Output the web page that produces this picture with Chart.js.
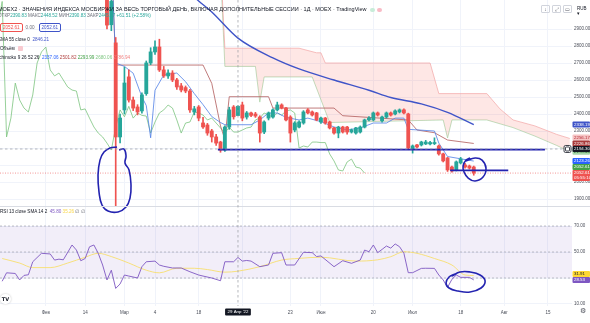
<!DOCTYPE html>
<html lang="ru">
<head>
<meta charset="utf-8">
<title>MOEX2 · 1Д</title>
<script src="https://cdn.jsdelivr.net/npm/chart.js@4.4.1/dist/chart.umd.min.js"></script>
<style>
  html, body { margin: 0; padding: 0; background: #fff; }
  #wrap { position: relative; width: 590px; height: 323px; overflow: hidden;
          font-family: "Liberation Sans", Arial, sans-serif; color: #131722; }
  #chart { position: absolute; left: 0; top: 0; }
  .row { position: absolute; left: -2px; white-space: nowrap; font-size: 4.6px; line-height: 7px; color: #131722; }
  .title { top: 5px; font-size: 5.5px; line-height: 8px; }
  .g { color: #6a6d78; }
  .up { color: #26a69a; }
  .box { display: inline-block; border: 0.8px solid; border-radius: 2px; padding: 0 2px; line-height: 7px; margin-right: 3px; }
  .box.red { border-color: #ef5350; color: #ef5350; }
  .box.blue { border-color: #3f54c8; color: #3f54c8; }
  .badge { display: inline-block; width: 5px; height: 4px; border-radius: 2px; margin-left: 2px; vertical-align: middle; }
  .icons { position: absolute; top: 5px; left: 541px; font-size: 5px; color: #50535e; white-space: nowrap; }
  .icons span { display: inline-block; width: 7px; height: 6px; border: 0.6px solid #d1d4dc; border-radius: 1px; text-align: center; line-height: 6px; margin-right: 2px; }
  .cur { position: absolute; top: 6px; left: 577px; font-size: 4.5px; color: #131722; }
  .tv { position: absolute; left: 0px; top: 294px; width: 11px; height: 10px; border-radius: 5px; background: #fff;
        box-shadow: 0 0 2px rgba(0,0,0,0.25); font: bold 5px "DejaVu Sans", sans-serif; text-align: center; line-height: 10px; }
  .gear { position: absolute; left: 580px; top: 307px; font: 7px "DejaVu Sans", sans-serif; color: #50535e; }
</style>
</head>
<body>
<div id="wrap">
  <canvas id="chart" width="590" height="323"></canvas>

  <div class="row title">MOEX2 · ЗНАЧЕНИЯ ИНДЕКСА МОСБИРЖИ ЗА ВЕСЬ ТОРГОВЫЙ ДЕНЬ, ВКЛЮЧАЯ ДОПОЛНИТЕЛЬНЫЕ СЕССИИ · 1Д · MOEX · TradingView
    <span class="badge" style="background:#c8ecd9"></span><span class="badge" style="background:#f8bbc6"></span></div>
  <div class="row" style="top:12px"><span class="g">ОТКР</span><span class="up">2390.83</span> <span class="g">МАКС</span><span class="up">2448.52</span> <span class="g">МИН</span><span class="up">2390.83</span> <span class="g">ЗАКР</span><span class="up">2445.17 +61.51 (+2.58%)</span></div>
  <div class="row" style="top:23px;left:0"><span class="box red">2052.61</span><span class="g" style="margin-right:4px">0.00</span><span class="box blue">2052.61</span></div>
  <div class="row" style="top:35.5px">EMA 55 close 0 &nbsp;<span style="color:#3f54c8">2846.21</span></div>
  <div class="row" style="top:44.5px;left:0">Объём <span class="badge" style="background:#f8c9cf;width:5px;height:5px;border-radius:1px"></span></div>
  <div class="row" style="top:53.5px">Ichimoku 9 26 52 26 &nbsp;<span style="color:#2962ff">2337.06</span> <span style="color:#b0403f">2501.82</span> <span style="color:#43a047">2293.99</span> <span style="color:#81c784">2680.06</span> <span style="color:#ef7f7f">2786.94</span></div>
  <div class="row" style="top:207.5px;left:0">RSI 13 close SMA 14 2 &nbsp;<span style="color:#7e57c2">45.80</span> <span style="color:#f9d648">35.26</span> <span class="g">∅ ∅</span></div>

  <div class="icons"><span>↓</span><span>⤢</span><span>▭</span></div>
  <div class="cur">RUB ▾</div>
  <div class="tv">TV</div>
  <div class="gear">⚙</div>
</div>

<script>
// ── Daily candles, one slot per trading day; slot 0 is 18 Jan ──
const firstDay = 24;
const opens  = [3350, 2925, 2818, 2265, 2424, 2618, 2482, 2441, 2418, 2520,
                2700, 2765, 2794, 2659, 2624, 2641, 2600, 2565, 2555, 2535,
                2412, 2441, 2347, 2335, 2300, 2265, 2235, 2188, 2323, 2441,
                2390.83, 2453, 2382, 2406, 2400, 2382, 2294, 2376, 2382, 2424,
                2453, 2435, 2382, 2306, 2323, 2347, 2424, 2412, 2406, 2353,
                2376, 2353, 2318, 2288, 2323, 2323, 2294, 2288, 2294, 2323,
                2365, 2365, 2406, 2360, 2382, 2406, 2400, 2412, 2424, 2400,
                2194, 2218, 2218, 2224, 2224, 2226, 2212, 2165, 2141, 2088,
                2071, 2112, 2100, 2094, 2088];
const highs  = [3420, 3120, 2850, 2400, 2676, 2660, 2500, 2455, 2525, 2712,
                2790, 2830, 2840, 2680, 2660, 2655, 2610, 2580, 2565, 2545,
                2445, 2450, 2380, 2345, 2310, 2280, 2240, 2330, 2440, 2450,
                2448.52, 2470, 2415, 2412, 2410, 2390, 2360, 2412, 2430, 2470,
                2460, 2440, 2390, 2355, 2360, 2420, 2432, 2418, 2410, 2382,
                2380, 2358, 2322, 2328, 2328, 2328, 2312, 2322, 2330, 2370,
                2385, 2412, 2412, 2388, 2412, 2412, 2424, 2430, 2430, 2405,
                2218, 2222, 2240, 2245, 2240, 2260, 2218, 2170, 2145, 2094,
                2124, 2145, 2110, 2100, 2094];
const lows   = [2900, 2890, 1681, 2230, 2400, 2470, 2420, 2395, 2405, 2510,
                2690, 2750, 2650, 2615, 2610, 2590, 2545, 2530, 2525, 2410,
                2395, 2360, 2315, 2275, 2235, 2215, 2175, 2180, 2310, 2370,
                2390.83, 2360, 2370, 2385, 2380, 2235, 2285, 2365, 2375, 2418,
                2430, 2360, 2235, 2295, 2318, 2340, 2400, 2388, 2360, 2345,
                2340, 2312, 2282, 2260, 2288, 2282, 2288, 2282, 2288, 2318,
                2360, 2360, 2388, 2352, 2376, 2388, 2394, 2406, 2400, 2190,
                2170, 2200, 2212, 2220, 2218, 2220, 2158, 2118, 2062, 2058,
                2065, 2106, 2082, 2076, 2040];
const closes = [2923, 3062, 2265, 2376, 2582, 2482, 2435, 2412, 2512, 2700,
                2765, 2794, 2659, 2624, 2641, 2600, 2559, 2541, 2535, 2424,
                2430, 2376, 2324, 2288, 2265, 2229, 2188, 2323, 2424, 2383.66,
                2445.17, 2376, 2406, 2392, 2388, 2288, 2353, 2406, 2424, 2453,
                2435, 2365, 2288, 2347, 2353, 2412, 2406, 2394, 2365, 2376,
                2347, 2318, 2288, 2323, 2294, 2293.99, 2306, 2318, 2323, 2365,
                2376, 2406, 2394, 2382, 2406, 2394, 2418, 2424, 2406, 2200,
                2212, 2206, 2235, 2235, 2232, 2232, 2165, 2124, 2071, 2065,
                2118, 2135, 2088, 2082, 2052.61];

// ── Day axis ──
const dayTicks  = [10, 19, 28, 35, 45, 55, 66, 73, 85, 94, 105, 115, 125];
const dayLabels = ['Фев', '14', 'Мар', '4', '18', 'Мая', '23', 'Июн', '20', 'Июл', '18', 'Авг', '15'];

// ── Indicator lines, [day, value] at their turning points ──
const ema55 = [[40, 3180], [45, 3065], [48, 3000], [54, 2846.21], [62, 2730], [68, 2665], [76, 2600],
               [84, 2540], [89, 2497], [96, 2460], [102, 2410], [108, 2338.19]];
const tenkan = [[25, 3330], [26, 2700], [28, 2680], [30, 2640], [32, 2500], [33, 2450], [34, 2260], [35, 2540],
                [37, 2630], [40, 2641], [42, 2590], [44, 2520], [46, 2455], [48, 2385], [50, 2350], [51, 2337.06],
                [57, 2337.06], [59, 2365], [61, 2406], [63, 2406], [65, 2380], [68, 2365], [70, 2376], [73, 2355],
                [76, 2324], [79, 2306], [82, 2318], [85, 2347], [88, 2347], [90, 2376], [92, 2376], [93, 2310],
                [99, 2300], [100, 2229], [102, 2150], [108, 2123.26]];
const kijun = [[25, 3330], [26, 2688], [46, 2688], [48, 2580], [50, 2330], [51, 2250], [52, 2501.82], [61, 2501.82],
               [62, 2435], [76, 2435], [78, 2390], [93, 2365], [95, 2306], [99, 2290], [102, 2247], [108, 2226.86]];
const spanB = [[50, 3300], [51, 2786.94], [68, 2786.94], [72, 2760], [73, 2760], [74, 2700], [98, 2700], [100, 2520],
               [111, 2520], [114, 2430], [117, 2365], [122, 2330], [127, 2280], [130, 2256.17]];
const spanA = [[50, 3250], [51, 2680.06], [58, 2680.06], [59, 2470], [60, 2618], [71, 2618], [75, 2350], [101, 2365],
               [102, 2259], [103, 2365], [111, 2365], [117, 2320], [122, 2270], [127, 2215], [130, 2178.4]];
const lagShift = 25;

// ── RSI pane ──
const rsi = [[0, 27.5], [1, 34], [3, 33.5], [4, 28.5], [5, 32], [6, 32.5], [7, 42.5], [9, 49], [11, 48.5], [12, 43.8],
             [13, 44.5], [14, 44], [16, 55.4], [17, 51.5], [18, 43.3], [19, 45], [20, 54], [21, 55.4], [22, 49], [23, 40],
             [24, 28.5], [25, 36], [26, 22], [27, 25.4], [28, 32.3], [29, 31.5], [31, 30], [32, 38.7], [33, 42.5], [35, 43],
             [36, 40], [37, 39], [39, 37.7], [41, 37.7], [43, 34.8], [45, 32.3], [46, 31.5], [48, 30], [50, 27.9], [51, 42.5],
             [53, 42.5], [54, 45.8], [55, 43], [56, 43.5], [57, 43], [59, 38.7], [61, 40], [62, 49], [64, 49.5], [65, 40],
             [67, 40], [69, 49.8], [71, 49.5], [72, 46.5], [73, 47], [76, 38.7], [78, 43.3], [80, 41.3], [82, 43.8], [83, 51.5],
             [84, 50.2], [85, 55.4], [86, 49.5], [87, 52], [88, 54.6], [89, 53], [90, 56.2], [91, 54.1], [92, 49], [93, 34.1],
             [94, 34.1], [96, 37.4], [97, 37.5], [99, 37.4], [100, 32.3], [101, 28.5], [102, 22.8], [103, 29], [104, 32.3],
             [105, 30.5], [107, 30.5], [108, 28.53]];
const rsiSma = [[0, 45], [4, 41.5], [7, 38], [11, 38], [15, 41.5], [19, 46], [22, 49], [25, 46.5], [29, 41.5], [33, 36],
                [36, 34], [40, 37.5], [44, 37.5], [47, 36.5], [51, 34.5], [54, 35.26], [59, 38.7], [64, 43.8], [68, 45.1],
                [73, 46], [81, 43], [86, 44], [89, 46.4], [92, 50.2], [95, 49], [99, 45], [103, 40], [106, 32.3], [108, 31.91]];
const rsiLevels = [70, 50, 30];

// ── Axis ticks ──
const priceTicks = [1900, 2000, 2100, 2200, 2300, 2400, 2500, 2600, 2700, 2800, 2900];
const rsiTicks = [10, 20, 30, 40, 50, 60, 70, 80];

// ── Hand drawings: level lines [fromDay, toDay, price] and freehand loops ──
const levels = [[49.4, 124.3, 2190], [102.6, 115.9, 2068]];
const loopCrash = [[26.76, 2188], [27.9, 2194], [28.36, 2153], [28.13, 2112], [29.05, 2071], [29.5, 1982], [29.28, 1906],
                   [28.36, 1853], [26.53, 1824], [24.24, 1829], [22.86, 1865], [22.18, 1941], [21.95, 2041], [22.4, 2129],
                   [23.32, 2176], [24.7, 2200], [26.3, 2206]];
const loopLast = [[106.23, 2124], [108.3, 2141], [109.9, 2129], [110.8, 2082], [110.13, 2029], [108.3, 2006],
                  [106.69, 2024], [105.78, 2059], [105.55, 2094], [106.23, 2129], [107.15, 2141]];
const loopRsi = [[103.03, 31.5], [104.86, 34.6], [107.15, 34.6], [109.44, 32.3], [110.6, 27.7], [109.67, 22.3],
                 [107.15, 19.2], [104.4, 20], [102.34, 22.3], [101.65, 26.2], [102.34, 30.8], [103.7, 33.1]];

// ── Crosshair and price-scale tags ──
const crossDay = 54, crossPrice = 2194.30, crossLabel = "29 Апр '22";
const countdown = '05:55:10';
const priceTags = [
  { value: 2338.19, bg: '#3f54c8', fg: '#fff' },
  { value: 2256.17, bg: '#f6c4c4', fg: '#b22833' },
  { value: 2226.86, bg: '#a83a3a', fg: '#fff' },
  { value: 2178.40, bg: '#a5d6a7', fg: '#1b5e20' },
  { value: 2123.26, bg: '#2962ff', fg: '#fff' },
  { value: 2052.61, bg: '#43a047', fg: '#fff' },
  { value: 2052.61, bg: '#ef5350', fg: '#fff', sub: countdown }
];
const rsiTags = [
  { value: 31.91, bg: '#fdd835', fg: '#131722' },
  { value: 28.53, bg: '#7e57c2', fg: '#fff' }
];

const UP = '#26a69a', DOWN = '#ef5350', PEN = '#2323b0';
const FONT = '"Liberation Sans", Arial, sans-serif';
Chart.defaults.font.family = FONT;

const days = closes.map((_, k) => firstDay + k);
const candleColors = closes.map((c, k) => (c >= opens[k] ? UP : DOWN));
const pts = arr => arr.map(([x, y]) => ({ x, y }));

function line(label, data, color, width, extra) {
  return Object.assign({ type: 'line', label, data, borderColor: color, borderWidth: width,
    pointRadius: 0, tension: 0, fill: false, yAxisID: 'price' }, extra || {});
}

function drawTag(ctx, left, cy, w, t) {
  const h = t.sub ? 11 : 6;
  ctx.fillStyle = t.bg;
  ctx.beginPath();
  ctx.roundRect(left, cy - 3, w, h, 1);
  ctx.fill();
  ctx.fillStyle = t.fg;
  ctx.fillText(t.text || t.value.toFixed(2), left + 1.5, cy + 0.2);
  if (t.sub) ctx.fillText(t.sub, left + 1.5, cy + 5);
}

function settle(tags, scale, gap) {
  tags.forEach(t => { t.y = scale.getPixelForValue(t.value); });
  for (let k = tags.length - 2; k >= 0; k--) {
    const lim = tags[k + 1].y - gap;
    if (tags[k].y > lim) tags[k].y = lim;
  }
}

const paneDecor = {
  id: 'paneDecor',
  beforeDatasetsDraw(chart) {
    const { ctx, chartArea: a, scales: { price, osc } } = chart;
    ctx.save();
    // RSI 70–30 band and its dashed levels
    const top = osc.getPixelForValue(rsiLevels[0]);
    const bot = osc.getPixelForValue(rsiLevels[2]);
    ctx.fillStyle = 'rgba(126,87,194,0.1)';
    ctx.fillRect(a.left, top, a.right - a.left, bot - top);
    ctx.strokeStyle = '#9598a1';
    ctx.lineWidth = 0.6;
    ctx.setLineDash([2, 2]);
    rsiLevels.forEach(v => {
      const py = osc.getPixelForValue(v);
      ctx.beginPath(); ctx.moveTo(a.left, py); ctx.lineTo(a.right, py); ctx.stroke();
    });
    // last close price line
    const pc = price.getPixelForValue(closes[closes.length - 1]);
    ctx.strokeStyle = '#ef5350';
    ctx.setLineDash([1, 1.5]);
    ctx.beginPath(); ctx.moveTo(a.left, pc); ctx.lineTo(a.right, pc); ctx.stroke();
    ctx.restore();
  },
  beforeDatasetDraw(chart, args) {
    const ds = chart.data.datasets[args.index];
    if (ds.freehand) return;
    const s = chart.scales[args.meta.yAxisID];
    const a = chart.chartArea;
    chart.ctx.save();
    chart.ctx.beginPath();
    chart.ctx.rect(a.left, s.top, a.right - a.left, s.bottom - s.top);
    chart.ctx.clip();
  },
  afterDatasetDraw(chart, args) {
    if (!chart.data.datasets[args.index].freehand) chart.ctx.restore();
  },
  afterDraw(chart) {
    const { ctx, chartArea: a, scales: { x, price, osc } } = chart;
    ctx.save();
    // pane separator
    ctx.strokeStyle = '#d9dce3';
    ctx.lineWidth = 1;
    const sep = Math.round(price.bottom) + 0.5;
    ctx.beginPath(); ctx.moveTo(0, sep); ctx.lineTo(chart.width, sep); ctx.stroke();

    // crosshair
    const cx = x.getPixelForValue(crossDay);
    const cy = price.getPixelForValue(crossPrice);
    ctx.strokeStyle = '#9598a1';
    ctx.lineWidth = 0.7;
    ctx.setLineDash([2.5, 2.5]);
    ctx.beginPath(); ctx.moveTo(cx, a.top); ctx.lineTo(cx, osc.bottom); ctx.stroke();
    ctx.beginPath(); ctx.moveTo(a.left, cy); ctx.lineTo(a.right, cy); ctx.stroke();
    ctx.setLineDash([]);

    ctx.font = '4.4px ' + FONT;
    ctx.textBaseline = 'middle';
    const left = a.right + 0.5, w = chart.width - left;

    settle(priceTags, price, 6);
    priceTags.forEach(t => drawTag(ctx, left, t.y, w, t));
    settle(rsiTags, osc, 6);
    rsiTags.forEach(t => drawTag(ctx, left, t.y, w, t));

    // crosshair price label with its small button
    drawTag(ctx, left, cy, w, { value: crossPrice, bg: '#131722', fg: '#fff' });
    ctx.fillStyle = '#fff';
    ctx.strokeStyle = '#131722';
    ctx.lineWidth = 0.8;
    ctx.beginPath(); ctx.roundRect(a.right - 8, cy - 3.5, 7, 7, 1.5); ctx.fill(); ctx.stroke();
    ctx.beginPath(); ctx.roundRect(a.right - 6.5, cy - 2, 4, 4, 0.5); ctx.stroke();

    // crosshair day label
    const tw = ctx.measureText(crossLabel).width + 5;
    ctx.fillStyle = '#131722';
    ctx.beginPath(); ctx.roundRect(cx - tw / 2, x.top + 2.5, tw, 7, 1); ctx.fill();
    ctx.fillStyle = '#fff';
    ctx.textAlign = 'center';
    ctx.fillText(crossLabel, cx, x.top + 6.2);
    ctx.restore();
  }
};

const datasets = [
  // freehand marks on top
  line('loop crash', pts(loopCrash), PEN, 1.6, { tension: 0.45, freehand: true, clip: false }),
  line('loop last', pts(loopLast), PEN, 1.6, { tension: 0.45, freehand: true, clip: false }),
  line('loop rsi', pts(loopRsi), PEN, 1.6, { tension: 0.45, freehand: true, clip: false, yAxisID: 'osc' }),
  ...levels.map(([a, b, p], k) => line('level ' + k, [{ x: a, y: p }, { x: b, y: p }], PEN, 1.8)),
  // candles
  { type: 'bar', label: 'bodies', grouped: false, barThickness: 3.2, borderWidth: 0, yAxisID: 'price',
    backgroundColor: candleColors,
    data: days.map((d, k) => ({ x: d, y: [Math.min(opens[k], closes[k]), Math.max(opens[k], closes[k]) + 0.5] })) },
  { type: 'bar', label: 'wicks', grouped: false, barThickness: 1, borderWidth: 0, yAxisID: 'price',
    backgroundColor: candleColors,
    data: days.map((d, k) => ({ x: d, y: [lows[k], highs[k]] })) },
  // indicators
  line('EMA 55', pts(ema55), '#3f54c8', 1.4, { cubicInterpolationMode: 'monotone' }),
  line('Tenkan', pts(tenkan), '#4f7fe6', 0.8),
  line('Kijun', pts(kijun), '#b05a5a', 0.8),
  line('Chikou', closes.map((c, k) => ({ x: firstDay + k - lagShift, y: c })), '#7cc47f', 0.8),
  line('Senkou B', pts(spanB), '#f2a5a5', 0.7, { fill: '+1', backgroundColor: 'rgba(244,67,54,0.13)' }),
  line('Senkou A', pts(spanA), '#a5d6a7', 0.7),
  // RSI
  line('RSI', pts(rsi), '#7e57c2', 0.9, { yAxisID: 'osc' }),
  line('RSI SMA', pts(rsiSma), '#f7df6e', 0.9, { yAxisID: 'osc', cubicInterpolationMode: 'monotone' })
];

const zeroPad = s => { s.paddingTop = 0; s.paddingBottom = 0; s.paddingLeft = 0; s.paddingRight = 0; };

new Chart(document.getElementById('chart'), {
  type: 'bar',
  data: { datasets },
  options: {
    responsive: false,
    animation: false,
    events: [],
    layout: { padding: 0 },
    plugins: { legend: { display: false }, tooltip: { enabled: false } },
    scales: {
      x: {
        type: 'linear', axis: 'x', position: 'bottom', min: -0.5, max: 130.5, offset: false,
        grid: { color: '#f0f3fa', drawTicks: false, offset: false },
        border: { display: false },
        afterBuildTicks: s => { s.ticks = dayTicks.map(v => ({ value: v })); },
        afterFit: s => { s.height = 17; zeroPad(s); },
        ticks: { autoSkip: false, maxRotation: 0, padding: 4, color: '#4a4e59', font: { size: 4.5 },
                 callback: v => dayLabels[dayTicks.indexOf(v)] || '' }
      },
      price: {
        type: 'linear', axis: 'y', position: 'right', stack: 'panes', stackWeight: 206, min: 1859, max: 3070.6,
        grid: { color: '#f0f3fa', drawTicks: false },
        border: { display: false },
        afterBuildTicks: s => { s.ticks = priceTicks.map(v => ({ value: v })); },
        afterFit: s => { s.width = 18; zeroPad(s); },
        ticks: { padding: 2, color: '#4a4e59', font: { size: 4.5 }, callback: v => v.toFixed(2) }
      },
      osc: {
        type: 'linear', axis: 'y', position: 'right', stack: 'panes', stackWeight: 100, min: 8.46, max: 85.4,
        grid: { color: '#f0f3fa', drawTicks: false },
        border: { display: false },
        afterBuildTicks: s => { s.ticks = rsiTicks.map(v => ({ value: v })); },
        afterFit: s => { s.width = 18; zeroPad(s); },
        ticks: { padding: 2, color: '#4a4e59', font: { size: 4.5 }, callback: v => v.toFixed(2) }
      }
    }
  },
  plugins: [paneDecor]
});
</script>
</body>
</html>
